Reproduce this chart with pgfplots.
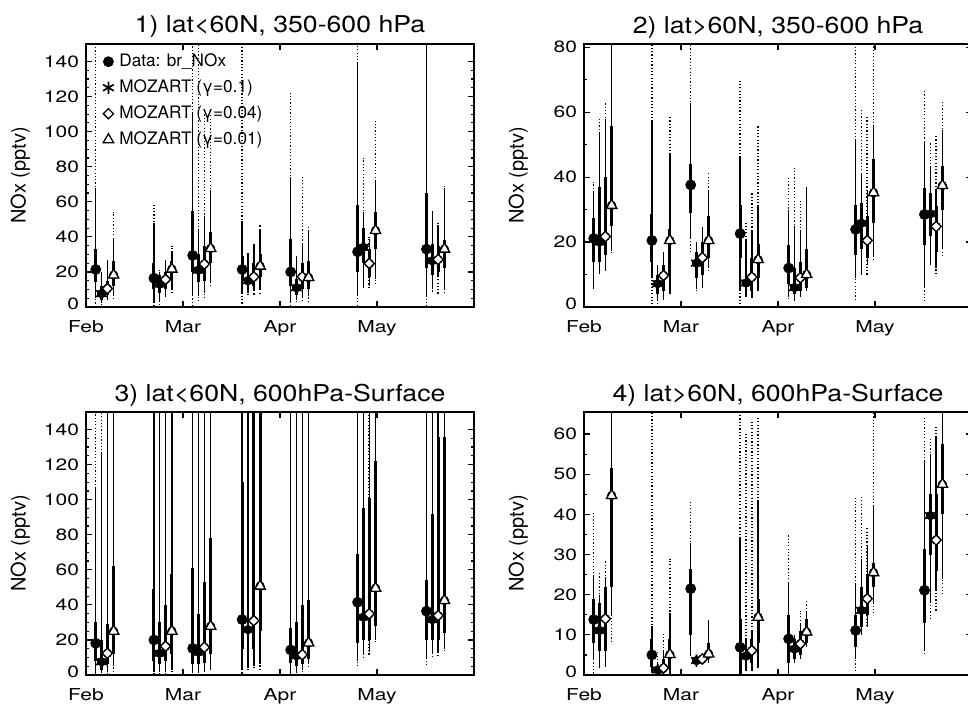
\documentclass[border=0pt]{standalone}
\usepackage{fontspec}
\setmainfont{TeX Gyre Heros}
\usepackage{graphicx}
\usepackage{pgfplots}
\usepackage{pgfplotstable}
\pgfplotsset{compat=1.18}
\newcommand{\tl}[1]{\scalebox{1.28}[1]{#1}}
\newcommand{\ttl}[1]{\scalebox{1.15}[1]{#1}}

% columns: x  median  dotted-low dotted-high  thin-low thin-high  thick-low thick-high
\pgfplotstableread{
x y dlo dhi tlo thi klo khi
0.10 21.4 0 160 5 68 14 33
0.70 16.4 1 58 3 48 10 25
1.10 29.4 0 160 6 110 20 55
1.61 21.4 0 160 8 49 15 29
2.11 20.0 0 123 3 74 12 39
2.80 31.5 0 160 7 139 20 58
3.51 33.0 0 160 7 160 22 65
}\pAd
\pgfplotstableread{
x y dlo dhi tlo thi klo khi
0.16 7.6 1 20 2 20 4 12
0.76 13.0 1 22 3 20 8 18
1.16 21.0 4 160 6 44 14 30
1.67 15.0 7 31 8 31 10 22
2.17 11.0 2 29 4 29 7 16
2.86 34.0 10 85 11 54 25 45
3.57 26.4 8 55 10 55 18 36
}\pAs
\pgfplotstableread{
x y dlo dhi tlo thi klo khi
0.22 10.5 3 27 4 27 7 15
0.82 15.7 5 27 6 27 10 20
1.22 24.5 5 110 8 52 15 35
1.73 17.2 7 36 9 36 12 25
2.23 17.2 4 75 5 36 10 25
2.92 24.8 10 40 12 38 17 33
3.63 27.1 7 48 17 47 20 35
}\pAm
\pgfplotstableread{
x y dlo dhi tlo thi klo khi
0.285 18.2 5 54 7 39 12 26
0.885 21.6 8 35 10 31 16 26
1.285 33.4 12 110 14 67 25 43
1.795 23.3 8 47 10 44 17 30
2.295 16.8 3 46 6 44 10 26
2.985 43.6 13 106 16 72 33 54
3.695 33.0 8 69 10 68 22 38
}\pAt
% panel 2
\pgfplotstableread{
x y dlo dhi tlo thi klo khi
0.10 21.1 5 38.5 6 35.5 14 27.5
0.70 20.5 0 90 9 57 14 28.5
1.10 37.6 17 90 21 62.8 29 44
1.61 22.6 0 69.5 5 46.5 15 31.5
2.11 12.0 2 40 3 30 7 19
2.80 23.9 2 90 9 51.5 16 31.5
3.51 28.5 2 67 6 51 19 36.5
}\pBd
\pgfplotstableread{
x y dlo dhi tlo thi klo khi
0.16 20.0 10 58.3 10.3 54 14 37
0.76 7.2 1 13 2 13 4 10
1.16 13.5 5 20 5.5 20 9 17
1.67 7.4 3 26 3 20.5 5 12
2.17 6.0 2 43 2 25 4 12
2.86 25.8 10 61 10 41.4 18 32
3.57 28.7 13 51 13 43.3 22 35
}\pBs
\pgfplotstableread{
x y dlo dhi tlo thi klo khi
0.22 21.7 11 62.8 11.3 58 16 40
0.82 9.7 2.5 17 2.5 17 5 13
1.22 15.2 6 24.6 6 24.6 10 20
1.73 9.2 3 35 3 23.6 5 15
2.23 9.0 3 32.8 3 23.6 5 14
2.92 20.5 10 59 13 36 15 28
3.63 24.8 10 53 12 36 17 31
}\pBm
\pgfplotstableread{
x y dlo dhi tlo thi klo khi
0.285 31.3 17 90 17.2 90 25 55.7
0.885 20.5 4 58.7 4.1 47.2 10 24.1
1.285 20.5 11 41.5 12 35.7 15 28
1.795 14.6 5 55.6 5 31.5 9 19.5
2.295 10.0 5 36.9 5 36.9 6 18
2.985 35.2 14 90 16 56.1 26 45.6
3.695 37.4 16 63.3 18 54.4 30 43.5
}\pBt
% panel 3
\pgfplotstableread{
x y dlo dhi tlo thi klo khi
0.10 18.1 0 160 1 107 8 30
0.70 20.0 0 160 2 160 8 49
1.10 15.2 0 160 2 160 6 61
1.61 31.6 0 160 3 160 15 110
2.11 14.3 0 160 1 160 7 27
2.80 41.5 4 160 8 160 18 69
3.51 36.4 6 160 9 160 20 54
}\pCd
\pgfplotstableread{
x y dlo dhi tlo thi klo khi
0.16 7.6 0 160 1 127 3 20
0.76 12.4 1 160 2 160 6 30
1.16 13.0 1 160 2 160 6 35
1.67 25.9 2 160 4 160 12 150
2.17 11.0 1 160 2 160 5 30
2.86 33.0 10 160 12 160 20 95
3.57 31.6 10 160 12 160 20 92
}\pCs
\pgfplotstableread{
x y dlo dhi tlo thi klo khi
0.22 12.4 1 160 2 160 6 29
0.82 16.4 1 160 2 160 8 40
1.22 15.8 1 160 2 160 7 53
1.73 31.0 3 160 5 160 15 160
2.23 11.6 2 160 3 160 6 40
2.92 34.9 11 160 13 160 20 101
3.63 33.9 11 160 13 160 20 136
}\pCm
\pgfplotstableread{
x y dlo dhi tlo thi klo khi
0.285 25.0 2 160 5 160 12 62
0.885 25.0 2 160 3 160 12 57.7
1.285 27.8 2 160 3 160 12 78
1.795 50.7 3 160 6 160 25 160
2.295 18.3 4 160 6 160 9 43
2.985 49.5 18 160 20 160 28 122
3.695 42.5 13 160 15 160 24 136
}\pCt
% panel 4
\pgfplotstableread{
x y dlo dhi tlo thi klo khi
0.10 13.8 0 40.4 4 25 8 19
0.70 5.0 0 70 0.5 12.3 2 9
1.10 21.5 5 43.6 5 33 10 26.5
1.61 6.9 0 70 0 34 0 14
2.11 9.0 0 35 0 23 3 15
2.80 11.1 1 44 4 23 7 15
3.51 21.1 5 64 6 53.6 13 31.5
}\pDd
\pgfplotstableread{
x y dlo dhi tlo thi klo khi
0.16 11.1 2 25.3 2 20 6 18
0.76 1.25 0 6 0 3 0.5 2
1.16 3.6 2.5 5 2.5 5 3 4.5
1.67 4.7 1 60 1 9 2 8
2.17 6.5 3 10 3 10 4 9
2.86 16.1 10 44.6 10 29 12 22
3.57 39.7 14 59 18 55 30 45
}\pDs
\pgfplotstableread{
x y dlo dhi tlo thi klo khi
0.22 14.0 2 28.4 2 24.4 6 22
0.82 1.75 0 10.5 0 6 1 4
1.22 4.0 3 5.5 3 5.5 3.5 5
1.73 6.1 1 63.2 1 11 3 9
2.23 7.75 4 16 4 13 5 11
2.92 19.0 12 37 12 32.5 15 25
3.63 33.6 16 62 21 59.6 26 45
}\pDm
\pgfplotstableread{
x y dlo dhi tlo thi klo khi
0.285 44.7 8 70 15 70 22 51.5
0.885 5.1 0 29 0 15.5 2 9
1.285 5.25 3 13.6 3 13.6 4 8
1.795 14.4 2 64 2 43.2 8 19
2.295 10.7 7 18.5 7 16 8 14
2.985 25.5 15 70 18 42 22 28
3.695 47.5 20 70 24 70 40 57.5
}\pDt

\pgfplotsset{
  barbase/.style={only marks, mark=none, forget plot, black,
    error bars/y dir=both, error bars/y explicit, error bars/error mark=none},
  dotbar/.style={barbase, error bars/error bar style={line width=0.75pt, dash pattern=on 0.6pt off 1.05pt}},
  thinbar/.style={barbase, error bars/error bar style={line width=0.7pt, solid}},
  thickbar/.style={barbase, error bars/error bar style={line width=1.45pt, solid}},
  mdata/.style={only marks, black, mark=*, mark size=2.5pt},
  mstar/.style={only marks, black, mark=asterisk, mark size=3.1pt, mark options={line width=0.85pt}},
  mdiam/.style={only marks, black, mark=square*, mark size=1.8pt, mark options={rotate=45, line width=0.65pt, fill=white}},
  mtri/.style={only marks, black, mark=triangle*, mark size=3pt, mark options={line width=0.65pt, fill=white}},
  panel/.style={scale only axis, width=194pt, height=131.5pt, anchor=south west,
    xmin=0, xmax=4, xtick={0,1,2,3,4}, xticklabels={\tl{Feb},\tl{Mar},\tl{Apr},\tl{May},{}},
    axis line style={line width=0.65pt}, every tick/.style={black, line width=0.6pt},
    major tick length=3.2pt, minor tick length=1.6pt,
    ticklabel style={font=\fontsize{8.2}{10}\selectfont},
    xticklabel style={yshift=-3pt},
    ylabel={NOx (pptv)},
    every axis y label/.style={at={(axis description cs:-0.169,0.5)}, rotate=90, anchor=center, font=\fontsize{10}{12}\selectfont},
    every axis title/.style={at={(axis description cs:0.5,1)}, anchor=base, yshift=5.5pt, font=\fontsize{11.6}{13}\selectfont},
  },
}
\newcommand{\drawseries}[2]{%
  \addplot[dotbar] table[x=x, y=y, y error plus expr=\thisrow{dhi}-\thisrow{y}, y error minus expr=\thisrow{y}-\thisrow{dlo}] {#1};
  \addplot[thinbar] table[x=x, y=y, y error plus expr=\thisrow{thi}-\thisrow{y}, y error minus expr=\thisrow{y}-\thisrow{tlo}] {#1};
  \addplot[thickbar] table[x=x, y=y, y error plus expr=\thisrow{khi}-\thisrow{y}, y error minus expr=\thisrow{y}-\thisrow{klo}] {#1};
  \addplot[#2] table[x=x, y=y] {#1};
}

\begin{document}
\begin{tikzpicture}
% panel 1
\begin{axis}[panel, at={(43pt,198pt)}, ymin=0, ymax=150,
  ytick={0,20,40,60,80,100,120,140}, yticklabels={\tl{\raisebox{3.5pt}{0}},\tl{20},\tl{40},\tl{60},\tl{80},\tl{100},\tl{120},\tl{140}}, minor y tick num=3,
  title={\ttl{1) lat<60N, 350-600 hPa}},
  legend style={at={(axis description cs:0.0196,0.992)}, anchor=north west, draw=none, fill=none,
    font=\fontsize{8.6}{10}\selectfont, row sep=1.8pt, column sep=0.1pt,
    nodes={inner sep=1.2pt, text height=6.6pt, text depth=2.2pt}},
  legend cell align=left,
  legend image code/.code={\path (-4pt,0pt) (4pt,0pt); \draw[#1] plot coordinates {(0pt,0pt)};}]
\drawseries{\pAd}{mdata}\addlegendentry{Data: br\_NOx}
\drawseries{\pAs}{mstar}\addlegendentry{MOZART (γ=0.1)}
\drawseries{\pAm}{mdiam}\addlegendentry{MOZART (γ=0.04)}
\drawseries{\pAt}{mtri}\addlegendentry{MOZART (γ=0.01)}
\end{axis}
% panel 2
\begin{axis}[panel, at={(292pt,198pt)}, ymin=0, ymax=81,
  ytick={0,20,40,60,80}, yticklabels={\tl{\raisebox{3.5pt}{0}},\tl{20},\tl{40},\tl{60},\tl{\raisebox{-1.7pt}{80}}}, minor y tick num=1,
  title={\ttl{2) lat>60N, 350-600 hPa}}]
\drawseries{\pBd}{mdata}
\drawseries{\pBs}{mstar}
\drawseries{\pBm}{mdiam}
\drawseries{\pBt}{mtri}
\end{axis}
% panel 3
\begin{axis}[panel, at={(43pt,14pt)}, ymin=0, ymax=150,
  ytick={0,20,40,60,80,100,120,140}, yticklabels={\tl{\raisebox{3.5pt}{0}},\tl{20},\tl{40},\tl{60},\tl{80},\tl{100},\tl{120},\tl{140}}, minor y tick num=3,
  title={\ttl{3) lat<60N, 600hPa-Surface}}]
\drawseries{\pCd}{mdata}
\drawseries{\pCs}{mstar}
\drawseries{\pCm}{mdiam}
\drawseries{\pCt}{mtri}
\end{axis}
% panel 4
\begin{axis}[panel, at={(292pt,14pt)}, ymin=0, ymax=65.5,
  ytick={0,10,20,30,40,50,60}, yticklabels={\tl{\raisebox{3.5pt}{0}},\tl{10},\tl{20},\tl{30},\tl{40},\tl{50},\tl{60}}, minor y tick num=1,
  title={\ttl{4) lat>60N, 600hPa-Surface}}]
\drawseries{\pDd}{mdata}
\drawseries{\pDs}{mstar}
\drawseries{\pDm}{mdiam}
\drawseries{\pDt}{mtri}
\end{axis}
\pgfresetboundingbox
\useasboundingbox (0,0) rectangle (484pt,351.5pt);
\end{tikzpicture}
\end{document}
